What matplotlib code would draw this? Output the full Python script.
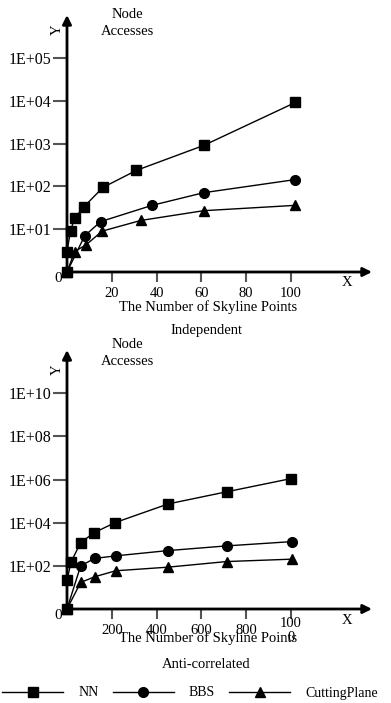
import matplotlib.pyplot as plt
import numpy as np
from matplotlib.ticker import NullLocator
from matplotlib.lines import Line2D

plt.rcParams['font.family'] = ['Liberation Serif', 'DejaVu Serif']

# Independent
ind_nn_x = [0, 0, 1.6, 3.4, 7.5, 16, 31, 61, 102]
ind_nn_y = [1, 3, 9.3, 18, 33, 94, 236, 900, 9100]
ind_bbs_x = [0, 7.9, 15, 38, 61, 102]
ind_bbs_y = [1, 7, 15, 36, 71, 144]
ind_cp_x = [0, 3.4, 8.5, 15.7, 33, 61, 102]
ind_cp_y = [1, 3, 4.3, 9, 16, 27, 36]

# Anti-correlated
anti_nn_x = [0, 0, 18, 61, 122, 214, 452, 713, 1000]
anti_nn_y = [1, 21, 150, 1200, 3450, 10000, 74000, 270000, 1.1e6]
anti_bbs_x = [0, 61, 123, 217, 452, 713, 1006]
anti_bbs_y = [1, 100, 220, 290, 510, 840, 1330]
anti_cp_x = [0, 61, 123, 217, 452, 713, 1006]
anti_cp_y = [1, 17, 31, 59, 87, 158, 204]

ind_ticks = [20, 40, 60, 80, 100]
ind_tick_labels = ['20', '40', '60', '80', '100']
anti_ticks = [200, 400, 600, 800, 1000]
anti_tick_labels = ['200', '400', '600', '800', '100\n0']

fs = 10.5
W, H = 391, 703
fig = plt.figure(figsize=(W / 100, H / 100), dpi=100)


def make_axes(top_px, bottom_px, xmax, ymax_exp, step, xt, xtl, yoff_y, yoff_node):
    ax = fig.add_axes([67 / W, 1 - bottom_px / H, (372 - 67) / W, (bottom_px - top_px) / H])
    ax.set_yscale('log')
    ax.set_xlim(0, xmax)
    ax.set_ylim(1, 10 ** ymax_exp)
    for s in ax.spines.values():
        s.set_visible(False)
    # arrowed axes
    arr = dict(arrowstyle='-|>', color='black', lw=2, mutation_scale=13, shrinkA=0, shrinkB=0)
    ax.annotate('', xy=(1, 0), xytext=(0, 0), xycoords='axes fraction', arrowprops=arr)
    ax.annotate('', xy=(0, 1), xytext=(0, 0), xycoords='axes fraction', arrowprops=arr)
    yt = [10 ** e for e in range(step, ymax_exp, step)]
    ax.set_yticks(yt)
    ax.set_yticklabels(['1E+%02d' % e for e in range(step, ymax_exp, step)], fontsize=11.5)
    ax.yaxis.set_minor_locator(NullLocator())
    ax.tick_params(axis='y', length=10, width=1.5, color='#555555', pad=1)
    ax.set_xticks(xt)
    ax.set_xticklabels(xtl, fontsize=fs, linespacing=1.1)
    ax.tick_params(axis='x', length=7, width=1.5, color='#555555', pad=8.5)
    for lab in ax.get_xticklabels():
        lab.set_va('center')
    ax.annotate('0', xy=(0, 0), xycoords='axes fraction', xytext=(-6, -4.5),
                textcoords='offset points', ha='center', va='center', fontsize=11)
    fig.text(57 / W, 1 - yoff_y / H, 'Y', rotation=90, ha='center', va='center', fontsize=fs)
    fig.text(127 / W, 1 - yoff_node / H, 'Node\nAccesses', ha='center', va='center',
             fontsize=fs, linespacing=1.35)
    fig.text(347 / W, 1 - (bottom_px + 11) / H, 'X', ha='center', va='center', fontsize=fs)
    return ax


def draw(ax, series):
    for x, y, m in series:
        ax.plot(x, y, color='black', lw=1, marker=m, markersize=7, clip_on=False, zorder=5)


ax1 = make_axes(15, 272, (372 - 67) / 2.24, 6, 1, ind_ticks, ind_tick_labels, 30, 23)
draw(ax1, [(ind_nn_x, ind_nn_y, 's'), (ind_bbs_x, ind_bbs_y, 'o'), (ind_cp_x, ind_cp_y, '^')])
fig.text(208 / W, 1 - 307 / H, 'The Number of Skyline Points', ha='center', va='center', fontsize=fs)
fig.text(206 / W, 1 - 330 / H, 'Independent', ha='center', va='center', fontsize=fs)

ax2 = make_axes(350, 609, (372 - 67) / 0.224, 12, 2, anti_ticks, anti_tick_labels, 370, 353)
draw(ax2, [(anti_nn_x, anti_nn_y, 's'), (anti_bbs_x, anti_bbs_y, 'o'), (anti_cp_x, anti_cp_y, '^')])
fig.text(208 / W, 1 - 638 / H, 'The Number of Skyline Points', ha='center', va='center', fontsize=fs)
fig.text(206 / W, 1 - 665 / H, 'Anti-correlated', ha='center', va='center', fontsize=fs)

handles = [Line2D([], [], color='black', lw=1, marker=m, markersize=7) for m in ['s', 'o', '^']]
fig.legend(handles, ['NN', 'BBS', 'CuttingPlane'], loc='center left', bbox_to_anchor=(2 / W, 1 - 693 / H),
           ncol=3, frameon=False, fontsize=10, handlelength=4.4, handletextpad=1.1,
           columnspacing=1.0, borderpad=0, borderaxespad=0)

fig.savefig('out.png', dpi=100)
